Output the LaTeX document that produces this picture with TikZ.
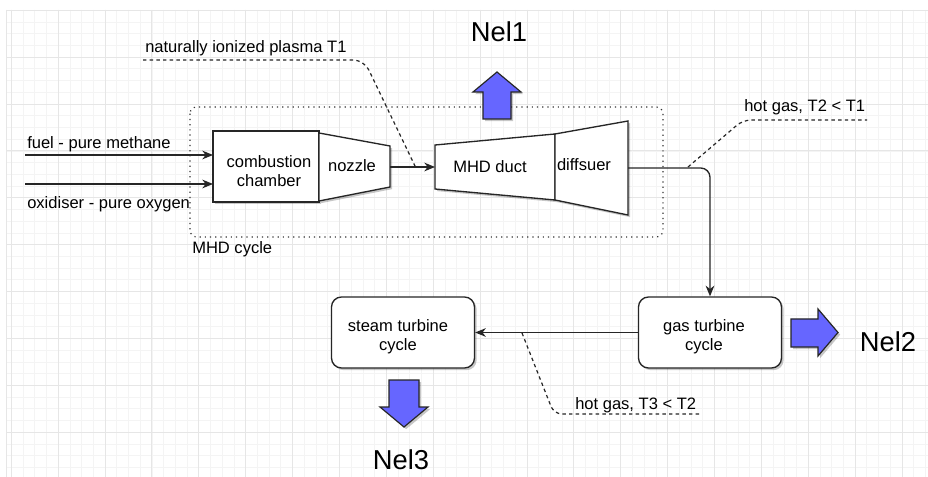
\documentclass[tikz,border=0pt]{standalone}
\usepackage{fontspec}
\setmainfont{Liberation Sans}
\usetikzlibrary{arrows.meta,shadows}
\definecolor{gmajor}{HTML}{E6E6E6}
\definecolor{gminor}{HTML}{F4F4F4}
\definecolor{pwr}{RGB}{102,102,255}
\tikzset{
  lbl/.style={font=\fontsize{12.4}{14.5}\selectfont, inner sep=0pt, align=center},
  biglbl/.style={font=\fontsize{20.5}{24}\selectfont, inner sep=0pt},
  shp/.style={draw=black!85, line width=1pt, fill=white, line join=miter,
     drop shadow={shadow xshift=1.6pt, shadow yshift=-1.6pt, fill=black, opacity=0.22}},
  pwrarrow/.style={draw=black!85, line width=0.9pt, fill=pwr,
     drop shadow={shadow xshift=1.6pt, shadow yshift=-1.6pt, fill=black, opacity=0.22}},
  flow/.style={draw=black!85, line width=1pt, -{Stealth[length=8pt,width=6.5pt,inset=2.5pt]}},
  dashline/.style={draw=black!85, line width=0.9pt, dash pattern=on 2.6pt off 2.4pt},
  cyclebox/.style={draw=black!80, line width=0.9pt, dash pattern=on 0.9pt off 3pt, rounded corners=5pt},
  turb/.style={draw=black!85, line width=1pt, fill=white, rounded corners=7.5pt,
     minimum width=107.25pt, minimum height=53.25pt, inner sep=0pt,
     drop shadow={shadow xshift=1.6pt, shadow yshift=-1.6pt, fill=black, opacity=0.22}},
}
\begin{document}
\begin{tikzpicture}[x=0.75pt,y=-0.75pt]
\useasboundingbox (0,0) rectangle (928,477);
\fill[white] (0,0) rectangle (928,477);
% grid
\foreach \k in {0,...,78} {\draw[gminor, line width=0.6pt] ({11.3+11.72*\k},10) -- ({11.3+11.72*\k},477);}
\foreach \k in {0,...,39} {\draw[gminor, line width=0.6pt] (6,{10.3+11.72*\k}) -- (928,{10.3+11.72*\k});}
\foreach \k in {0,...,19} {\draw[gmajor, line width=0.7pt] ({11.3+46.88*\k},10) -- ({11.3+46.88*\k},477);}
\foreach \k in {0,...,9} {\draw[gmajor, line width=0.7pt] (6,{10.3+46.88*\k}) -- (928,{10.3+46.88*\k});}
\draw[gmajor, line width=0.7pt] (6,10) -- (6,477);

% MHD cycle box
\draw[cyclebox] (190,107) rectangle (663,237);
\node[lbl, anchor=west] (mhdc) at (192,249) {MHD cycle};

% combustion chamber
\filldraw[shp] (213,131) rectangle (319,202);
\node[lbl] (cc) at (269,171) {combustion\\chamber};
% nozzle
\filldraw[shp] (319,133) -- (390,146) -- (390,187) -- (319,201) -- cycle;
\node[lbl] (noz) at (352,166) {nozzle};
% MHD duct
\filldraw[shp] (435,145) -- (555,134) -- (555,200) -- (435,189) -- cycle;
\node[lbl] (duct) at (490,167) {MHD duct};
% diffuser
\filldraw[shp] (555,134) -- (628,121) -- (628,215) -- (555,200) -- cycle;
\node[lbl] (diff) at (584,165) {diffsuer};

% connectors in MHD block
\coordinate (fuelS) at (25,155);
\coordinate (fuelE) at (213,155);
\coordinate (oxS) at (25,184);
\coordinate (oxE) at (213,184);
\coordinate (nozOut) at (390,167);
\coordinate (ductIn) at (435,167);
\coordinate (diffOut) at (628,168);
\draw[flow] (fuelS) -- (fuelE);
\draw[flow] (oxS) -- (oxE);
\draw[flow] (nozOut) -- (ductIn);
\node[lbl, anchor=west] (fuel) at (27,144) {fuel - pure methane};
\node[lbl, anchor=west] (ox) at (27,204) {oxidiser - pure oxygen};

% plasma label
\node[lbl, anchor=west] (plasma) at (145,48) {naturally ionized plasma T1};
\coordinate (pl1) at (143,60);
\coordinate (pl2) at (364,60);
\coordinate (pl3) at (415,166);
\draw[dashline, rounded corners=8pt] (pl1) -- (pl2) -- (pl3);

% turbines
\node[turb] (gt) at (710,332.5) {};
\node[lbl] (gtt) at (704,337) {gas turbine\\cycle};
\node[turb] (st) at (403,332.5) {};
\node[lbl] (stt) at (398,337) {steam turbine\\cycle};
\draw[flow, rounded corners=7pt] (diffOut) -| (gt.north);
\draw[flow] (gt.west) -- (st.east);

% hot gas T2
\node[lbl, anchor=west] (hg2) at (744,107) {hot gas, T2 < T1};
\coordinate (h2a) at (688,167);
\coordinate (h2b) at (743,120);
\coordinate (h2c) at (867,120);
\draw[dashline, rounded corners=6pt] (h2a) -- (h2b) -- (h2c);

% hot gas T3
\node[lbl, anchor=west] (hg3) at (575,405) {hot gas, T3 < T2};
\coordinate (h3a) at (522,333);
\coordinate (h3b) at (554,414);
\coordinate (h3c) at (700,414);
\draw[dashline, rounded corners=6pt] (h3a) -- (h3b) -- (h3c);

% power arrows
\filldraw[pwrarrow] (497,72) -- (521,92) -- (511,92) -- (511,119) -- (483,119) -- (483,92) -- (473,92) -- cycle;
\node[biglbl] (nel1) at (499,32) {Nel1};
\filldraw[pwrarrow] (838,332.5) -- (818,356) -- (818,347) -- (791,347) -- (791,319) -- (818,319) -- (818,309) -- cycle;
\node[biglbl] (nel2) at (888,342) {Nel2};
\filldraw[pwrarrow] (404,427) -- (428,407) -- (419,407) -- (419,380) -- (389,380) -- (389,407) -- (380,407) -- cycle;
\node[biglbl] (nel3) at (401,460) {Nel3};
\end{tikzpicture}
\end{document}
